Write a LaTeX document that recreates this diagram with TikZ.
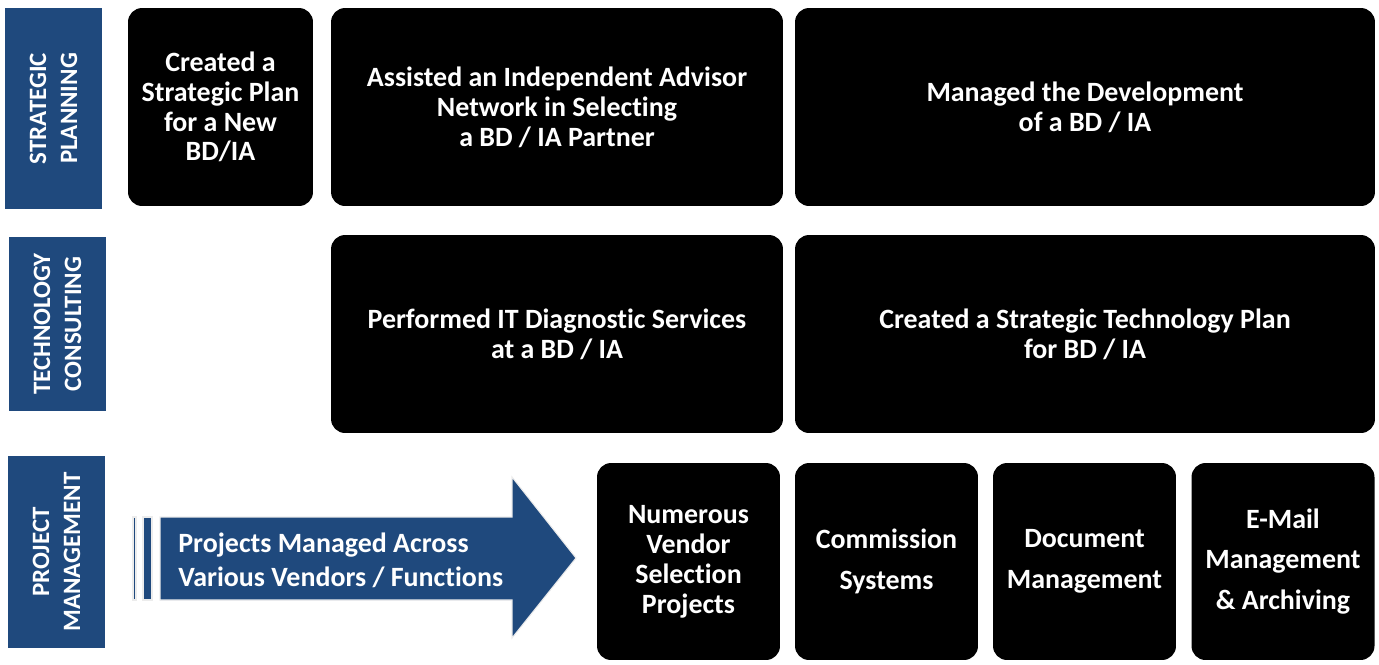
\documentclass[tikz,border=0pt]{standalone}
\usepackage{fontspec}
\setmainfont{Carlito}[Ligatures=NoCommon]
\definecolor{navy}{HTML}{1F497D}
\begin{document}
\begin{tikzpicture}[x=0.02cm,y=-0.02cm,
    sidebar/.style={fill=navy, text=white, rotate=90, inner sep=0pt, align=center,
        font=\fontsize{14.2}{17.6}\selectfont\bfseries, minimum height=1.94cm},
    tile/.style={fill=black, rounded corners=0.28cm, text=white, inner sep=0pt, align=center,
        font=\fontsize{15.9}{17}\selectfont\bfseries, minimum height=3.96cm},
    wide/.style={tile, font=\fontsize{15.9}{23.3}\selectfont\bfseries, minimum width=3.66cm, minimum height=3.94cm}]
    \useasboundingbox (0,0) rectangle (1379,664);

    % row labels
    \node[sidebar, minimum width=4.02cm] (strat) at (53.5,108.5) {STRATEGIC\\PLANNING};
    \node[sidebar, minimum width=3.5cm] (tech) at (57.5,324) {TECHNOLOGY\\CONSULTING};
    \node[sidebar, minimum width=3.84cm] (proj) at (56.5,552) {PROJECT\\MANAGEMENT};

    % strategic planning
    \node[tile, minimum width=3.7cm] (plan) at (220.5,107) {Created a\\Strategic Plan\\for a New\\BD/IA};
    \node[tile, minimum width=9.04cm] (advisor) at (557,107) {Assisted an Independent Advisor\\Network in Selecting\\a BD / IA Partner};
    \node[tile, minimum width=11.6cm] (develop) at (1085,107) {Managed the Development\\of a BD / IA};

    % technology consulting
    \node[tile, minimum width=9.04cm] (diag) at (557,334) {Performed IT Diagnostic Services\\at a BD / IA};
    \node[tile, minimum width=11.6cm] (techplan) at (1085,334) {Created a Strategic Technology Plan\\for BD / IA};

    % project management
    \draw[fill=navy, draw=gray!15, line width=0.6pt] (133,517) rectangle (136,600);
    \draw[fill=navy, draw=gray!15, line width=0.6pt] (143,517) rectangle (152,600);
    \draw[fill=navy, draw=gray!15, line width=0.6pt]
        (160,517) -- (512,517) -- (512,477) -- (576,558) -- (512,638) -- (512,600) -- (160,600) -- cycle;
    \node[anchor=west, align=left, text=white, inner sep=0pt,
        font=\fontsize{15.9}{19.3}\selectfont\bfseries] (across) at (178,560)
        {Projects Managed Across\\Various Vendors / Functions};
    \node[tile, minimum width=3.66cm, minimum height=3.94cm] (vendor) at (688.5,561.5) {Numerous\\Vendor\\Selection\\Projects};
    \node[wide] (commission) at (886.5,561.5) {Commission\\Systems};
    \node[wide] (document) at (1084.5,561.5) {Document\\Management};
    \node[wide] (email) at (1283,561.5) {E-Mail\\Management\\\& Archiving};
\end{tikzpicture}
\end{document}
